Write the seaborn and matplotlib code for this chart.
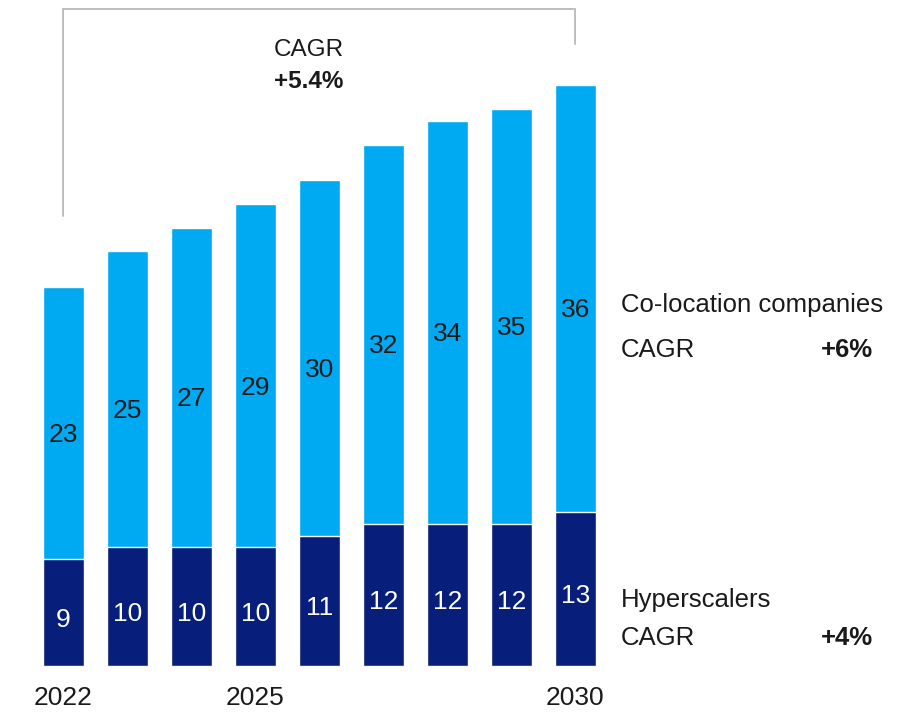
import pandas as pd
import matplotlib.pyplot as plt
import seaborn as sns

# data
years = ["2022", "2023", "2024", "2025", "2026", "2027", "2028", "2029", "2030"]
hyperscalers = [9, 10, 10, 10, 11, 12, 12, 12, 13]
colocation = [23, 25, 27, 29, 30, 32, 34, 35, 36]
year_ticks = ["2022", "2025", "2030"]

df = pd.DataFrame({"year": years, "hyper": hyperscalers, "coloc": colocation})
df["total"] = df["hyper"] + df["coloc"]

light = "#00AAF2"
dark = "#071F7A"
txt = "#1a1a1a"

sns.set_style("white")
plt.rcParams["font.family"] = ["Liberation Sans", "DejaVu Sans"]

fig = plt.figure(figsize=(9.1, 7.14), dpi=100)
ax = fig.add_axes([0, 0, 1, 1])

# stacked bars: total first, hyperscalers on top of it
sns.barplot(data=df, x="year", y="total", color=light, width=0.64, saturation=1, ax=ax)
sns.barplot(data=df, x="year", y="hyper", color=dark, width=0.64, saturation=1, ax=ax)

for i, row in df.iterrows():
    ax.text(i, row["hyper"] + row["coloc"] / 2 - 1.0, str(row["coloc"]), ha="center", va="center",
            fontsize=19, color=txt)
    ax.text(i, row["hyper"] / 2 - 0.6, str(row["hyper"]), ha="center", va="center",
            fontsize=19, color="white")

# year labels
for y in year_ticks:
    ax.text(years.index(y), -2.7, y, ha="center", va="center", fontsize=19, color=txt)

# bracket for overall CAGR
n = len(years) - 1
ax.plot([0, 0, n, n], [df["total"].iloc[0] + 6, 55.4, 55.4, df["total"].iloc[-1] + 3.5],
        color="#bdbdbd", lw=1.4, solid_joinstyle="miter")
ax.text(3.84, 52.0, "CAGR", ha="center", va="center", fontsize=17.5, color=txt)
ax.text(3.84, 49.3, "+5.4%", ha="center", va="center", fontsize=17.5, color=txt, fontweight="bold")

# segment labels on the right
fs = 18.5
ax.text(8.71, 30.46, "Co-location companies", ha="left", va="center", fontsize=fs, color=txt)
ax.text(8.71, 26.67, "CAGR", ha="left", va="center", fontsize=fs, color=txt)
ax.text(12.65, 26.67, "+6%", ha="right", va="center", fontsize=fs, color=txt, fontweight="bold")
ax.text(8.71, 5.57, "Hyperscalers", ha="left", va="center", fontsize=fs, color=txt)
ax.text(8.71, 2.36, "CAGR", ha="left", va="center", fontsize=fs, color=txt)
ax.text(12.65, 2.36, "+4%", ha="right", va="center", fontsize=fs, color=txt, fontweight="bold")

ax.set_xlim(-0.992, 13.23)
ax.set_ylim(-4.05, 56.2)
ax.axis("off")

fig.savefig("out.png", dpi=100, facecolor="white")
